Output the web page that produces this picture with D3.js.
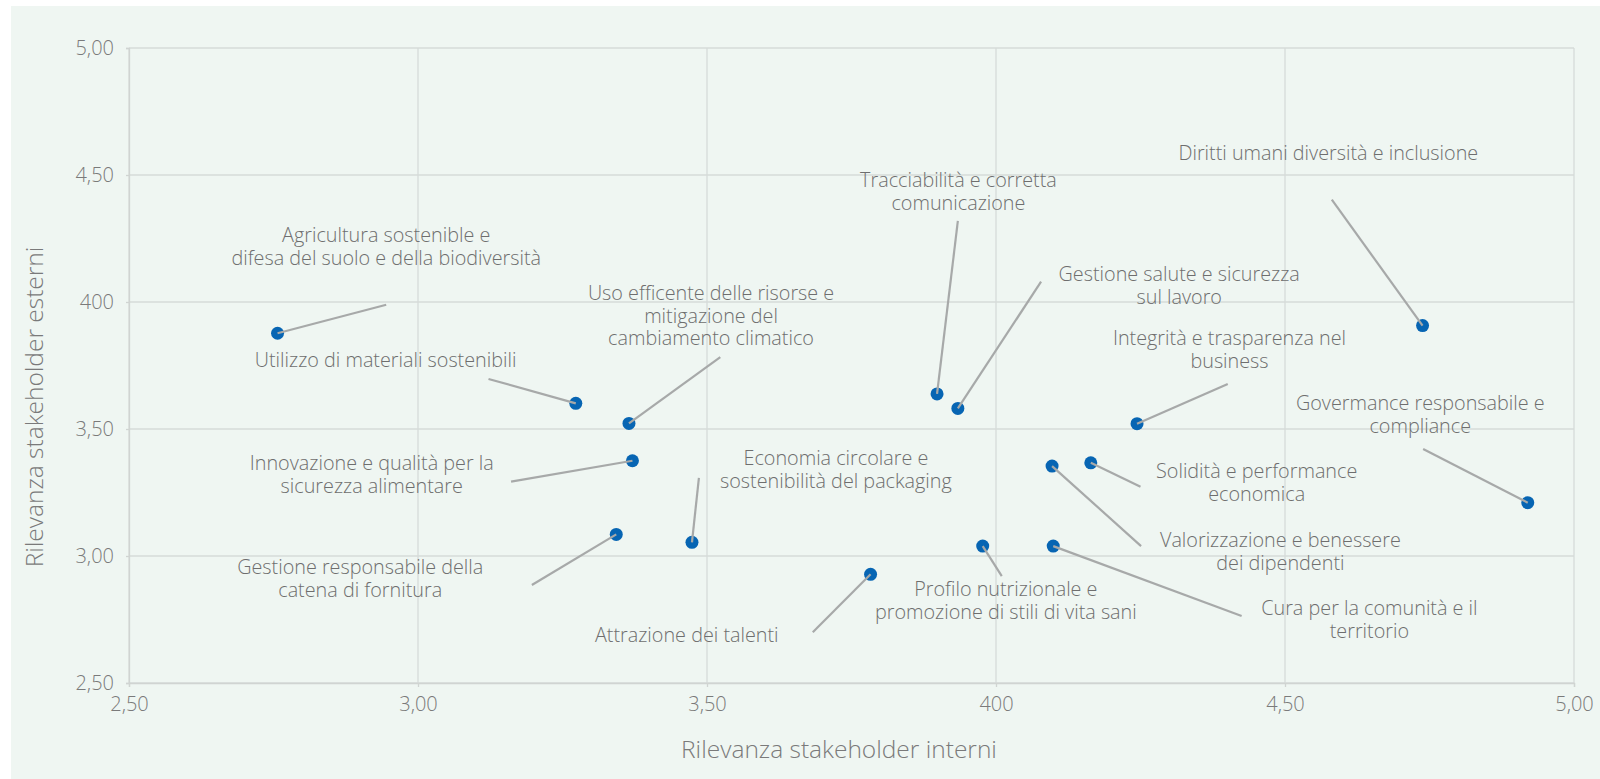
<!DOCTYPE html>
<html>
<head>
<meta charset="utf-8">
<script src="https://cdn.jsdelivr.net/npm/d3@7"></script>
<style>
  body { margin: 0; background: #fff; }
  text { font-family: 'Open Sans', 'Noto Sans', sans-serif; font-weight: 300; }
</style>
</head>
<body>
<div id="viz"></div>
<script>
// data
var topics = [
  ['Agricultura sostenible e', 'difesa del suolo e della biodiversità'],
  ['Utilizzo di materiali sostenibili'],
  ['Uso efficente delle risorse e', 'mitigazione del', 'cambiamento climatico'],
  ['Innovazione e qualità per la', 'sicurezza alimentare'],
  ['Gestione responsabile della', 'catena di fornitura'],
  ['Economia circolare e', 'sostenibilità del packaging'],
  ['Attrazione dei talenti'],
  ['Profilo nutrizionale e', 'promozione di stili di vita sani'],
  ['Tracciabilità e corretta', 'comunicazione'],
  ['Gestione salute e sicurezza', 'sul lavoro'],
  ['Integrità e trasparenza nel', 'business'],
  ['Diritti umani diversità e inclusione'],
  ['Govermance responsabile e', 'compliance'],
  ['Solidità e performance', 'economica'],
  ['Valorizzazione e benessere', 'dei dipendenti'],
  ['Cura per la comunità e il', 'territorio']
];
var interni = [2.757, 3.273, 3.365, 3.371, 3.343, 3.474, 3.783, 3.977, 3.898, 3.934, 4.244, 4.738, 4.920, 4.164, 4.097, 4.099];
var esterni = [3.877, 3.601, 3.522, 3.375, 3.085, 3.054, 2.928, 3.039, 3.638, 3.581, 3.521, 3.907, 3.210, 3.367, 3.354, 3.039];

var tickValues = [2.5, 3, 3.5, 4, 4.5, 5];
var xTickLabels = ['2,50', '3,00', '3,50', '400', '4,50', '5,00'];
var yTickLabels = ['2,50', '3,00', '3,50', '400', '4,50', '5,00'];

// where each label and its leader line end sit, in axis units
var labelPos = [
  [2.945, 4.237], [2.944, 3.745], [3.507, 4.008], [2.920, 3.339],
  [2.900, 2.929], [3.723, 3.358], [3.465, 2.661], [4.017, 2.843],
  [3.935, 4.453], [4.317, 4.083], [4.404, 3.831], [4.575, 4.559],
  [4.734, 3.575], [4.451, 3.307], [4.492, 3.035], [4.646, 2.768]
];
var leaderEnd = [
  [2.945, 3.989], [3.122, 3.697], [3.523, 3.783], [3.161, 3.293],
  [3.197, 2.886], [3.486, 3.308], [3.683, 2.700], [4.010, 2.921],
  [3.934, 4.319], [4.078, 4.080], [4.401, 3.677], [4.581, 4.403],
  [4.739, 3.421], [4.250, 3.273], [4.251, 3.039], [4.425, 2.764]
];

var margin = { top: 48, right: 26, bottom: 96, left: 129 },
  width = 1600 - margin.left - margin.right,
  height = 779 - margin.top - margin.bottom;

var svg = d3.select('#viz').append('svg')
  .attr('width', 1600)
  .attr('height', 779);

svg.append('rect')
  .attr('x', 11).attr('y', 6)
  .attr('width', 1589).attr('height', 773)
  .attr('fill', '#eff6f2');

var g = svg.append('g')
  .attr('transform', 'translate(' + margin.left + ',' + margin.top + ')');

var x = d3.scaleLinear().domain([2.5, 5]).range([0, width]);
var y = d3.scaleLinear().domain([2.5, 5]).range([height, 0]);

// grid
g.append('g').selectAll('line').data(tickValues).enter().append('line')
  .attr('x1', function(d) { return x(d); })
  .attr('x2', function(d) { return x(d); })
  .attr('y1', 0).attr('y2', height)
  .attr('stroke', '#d6dbd9').attr('stroke-width', 1.3);
g.append('g').selectAll('line').data(tickValues).enter().append('line')
  .attr('y1', function(d) { return y(d); })
  .attr('y2', function(d) { return y(d); })
  .attr('x1', 0).attr('x2', width)
  .attr('stroke', '#d6dbd9').attr('stroke-width', 1.3);

var xAxis = d3.axisBottom(x)
  .tickValues(tickValues)
  .tickSize(4).tickPadding(10)
  .tickFormat(function(d, i) { return xTickLabels[i]; });
var yAxis = d3.axisLeft(y)
  .tickValues(tickValues)
  .tickSize(3).tickPadding(12)
  .tickFormat(function(d, i) { return yTickLabels[i]; });

var xg = g.append('g')
  .attr('transform', 'translate(0,' + height + ')')
  .call(xAxis);
var yg = g.append('g').call(yAxis);

[xg, yg].forEach(function(ax) {
  ax.select('.domain').attr('stroke', '#d0d4d2').attr('stroke-width', 1.3);
  ax.selectAll('.tick line').attr('stroke', '#d0d4d2').attr('stroke-width', 1.3);
  ax.selectAll('.tick text')
    .attr('fill', '#7a7a7a')
    .style('font-size', '20px');
});

// points
g.append('g').selectAll('circle').data(interni).enter().append('circle')
  .attr('cx', function(d) { return x(d); })
  .attr('cy', function(d, i) { return y(esterni[i]); })
  .attr('r', 6.5)
  .attr('fill', '#0765b3');

// leader lines, on top of the dots
g.append('g').selectAll('line').data(interni).enter().append('line')
  .attr('x1', function(d) { return x(d); })
  .attr('y1', function(d, i) { return y(esterni[i]); })
  .attr('x2', function(d, i) { return x(leaderEnd[i][0]); })
  .attr('y2', function(d, i) { return y(leaderEnd[i][1]); })
  .attr('stroke', '#a7a9a9')
  .attr('stroke-width', 2.2);

// labels
var lbl = g.append('g').selectAll('text').data(topics).enter().append('text')
  .attr('x', function(d, i) { return x(labelPos[i][0]); })
  .attr('y', function(d, i) { return y(labelPos[i][1]); })
  .attr('text-anchor', 'middle')
  .attr('fill', '#6e6e6e')
  .style('font-size', '19.8px');

lbl.selectAll('tspan').data(function(d, i) {
    return d.map(function(t) { return { t: t, i: i }; });
  }).enter().append('tspan')
  .attr('x', function(d) { return x(labelPos[d.i][0]); })
  .attr('dy', function(d, j) { return j === 0 ? 0 : 22.7; })
  .text(function(d) { return d.t; });

// axis titles
svg.append('text')
  .attr('x', 839).attr('y', 758)
  .attr('text-anchor', 'middle')
  .attr('fill', '#7a7a7a')
  .style('font-size', '24.5px')
  .text('Rilevanza stakeholder interni');

svg.append('text')
  .attr('transform', 'translate(43,407) rotate(-90)')
  .attr('text-anchor', 'middle')
  .attr('fill', '#7a7a7a')
  .style('font-size', '24.5px')
  .text('Rilevanza stakeholder esterni');
</script>
</body>
</html>
